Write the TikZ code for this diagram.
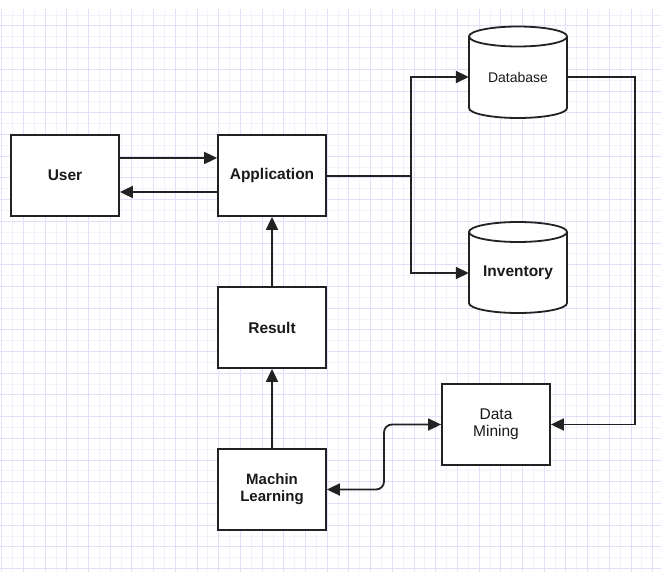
\documentclass[tikz,border=0pt]{standalone}
\usepackage{fontspec}
\setmainfont{Liberation Sans}
\usetikzlibrary{arrows.meta,calc}
\definecolor{gridmaj}{RGB}{224,224,250}
\definecolor{gridmin}{RGB}{242,242,253}
\definecolor{edge}{RGB}{34,34,34}
\definecolor{txt}{RGB}{25,25,25}
\begin{document}
\begin{tikzpicture}[x=1pt,y=-1pt,
  box/.style={draw=edge, line width=1.8pt, fill=white, minimum width=108pt, minimum height=81pt, inner sep=0pt, align=center, text=txt, font=\fontsize{15.5}{17}\selectfont\bfseries},
  lbl/.style={minimum width=98pt, minimum height=60pt, inner sep=0pt, align=center, text=txt},
  conn/.style={draw=edge, line width=1.8pt},
  tip/.tip={Triangle[length=13pt,width=12pt]},
  arr/.style={conn, -tip},
  cyl/.style={draw=edge, line width=1.8pt, fill=white}]
\useasboundingbox (0,0) rectangle (661,572);
\fill[white] (0,0) rectangle (661,572);
% grid
\foreach \i in {0,...,29} \draw[gridmin, line width=0.9pt] ({12.55+\i*21.7},9) -- (12.55+\i*21.7,572);
\foreach \i in {0,...,25} \draw[gridmin, line width=0.9pt] (0,{15.15+\i*21.7}) -- (661,{15.15+\i*21.7});
\foreach \i in {0,...,30} \draw[gridmaj, line width=1pt] ({1.7+\i*21.7},9) -- ({1.7+\i*21.7},572);
\foreach \i in {0,...,25} \draw[gridmaj, line width=1pt] (0,{26+\i*21.7}) -- (661,{26+\i*21.7});
% cylinders
\filldraw[cyl] (469,36.5) -- (469,108) arc[start angle=180,end angle=360,x radius=49pt,y radius=10pt] -- (567,36.5) arc[start angle=0,end angle=180,x radius=49pt,y radius=10pt] -- cycle;
\draw[cyl, fill=none] (469,36.5) arc[start angle=180,end angle=360,x radius=49pt,y radius=10pt];
\filldraw[cyl] (469,232) -- (469,303) arc[start angle=180,end angle=360,x radius=49pt,y radius=10pt] -- (567,232) arc[start angle=0,end angle=180,x radius=49pt,y radius=10pt] -- cycle;
\draw[cyl, fill=none] (469,232) arc[start angle=180,end angle=360,x radius=49pt,y radius=10pt];
% nodes
\node[box] (user) at (65,175.5) {User};
\node[box] (app) at (272,175.5) {Application};
\node[box] (res) at (272,327.5) {Result};
\node[box, font=\fontsize{15}{17}\selectfont\bfseries] (ml) at (272,489.5) {Machin\\Learning};
\node[box, font=\fontsize{15.5}{17.5}\selectfont] (dm) at (496,424.5) {Data\\Mining};
\node[lbl, font=\fontsize{14}{16}\selectfont] (db) at (518,77) {Database};
\node[lbl, font=\fontsize{15.5}{17}\selectfont\bfseries] (inv) at (518,273) {Inventory};
% connectors
\draw[arr] ($(user.east)+(0,-17.5)$) -- ($(app.west)+(0,-17.5)$);
\draw[arr] ($(app.west)+(0,16.5)$) -- ($(user.east)+(0,16.5)$);
\draw[arr] (res.north) -- (app.south);
\draw[arr] (ml.north) -- (res.south);
\coordinate (j) at (411,176);
\draw[conn] (app.east |- j) -- (j);
\draw[arr] (j) |- (db.west);
\draw[arr] (j) |- (inv.west);
\coordinate (k) at (635,424.5);
\draw[arr] (db.east) -| (k) -- (dm.east);
\coordinate (m) at (384,457);
\draw[conn, tip-tip, rounded corners=8pt] (ml.east) -- (ml.east -| m) -- (m |- dm.west) -- (dm.west);
\end{tikzpicture}
\end{document}
